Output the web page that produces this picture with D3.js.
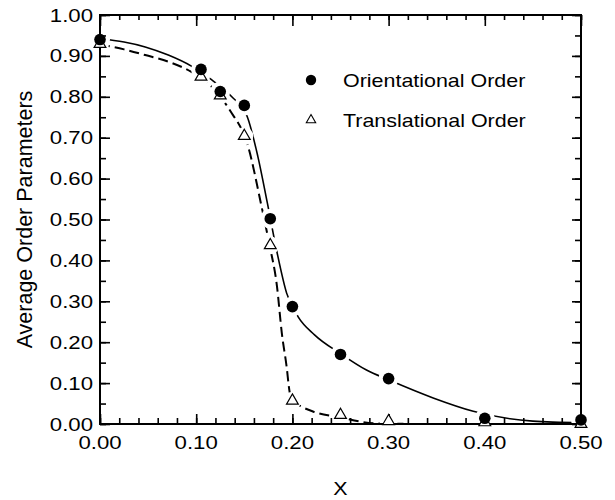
<!DOCTYPE html>
<html>
<head>
<meta charset="utf-8">
<script src="https://cdn.jsdelivr.net/npm/d3@7"></script>
<style>
  body { margin: 0; background: #fff; }
  svg text { font-family: "Liberation Sans", Arial, Helvetica, sans-serif; fill: #000; }
</style>
</head>
<body>
<div id="chart"></div>
<script>
'use strict';

const xValues = [0.00, 0.105, 0.125, 0.150, 0.177, 0.200, 0.250, 0.300, 0.400, 0.500];
const orientational = [0.940, 0.867, 0.813, 0.779, 0.502, 0.287, 0.170, 0.111, 0.014, 0.010];
const translational = [0.929, 0.849, 0.803, 0.704, 0.437, 0.057, 0.022, 0.007, 0.004, 0.000];

// fitted curves
const orientFitX = [0, 0.025, 0.047, 0.071, 0.095, 0.114, 0.137, 0.153, 0.164, 0.174, 0.184, 0.194, 0.206, 0.223, 0.25, 0.277, 0.3, 0.347, 0.388, 0.45, 0.5];
const orientFitY = [0.942, 0.934, 0.922, 0.902, 0.875, 0.845, 0.800, 0.752, 0.655, 0.540, 0.420, 0.320, 0.262, 0.218, 0.172, 0.132, 0.108, 0.063, 0.031, 0.007, 0.003];
const transFitX = [0, 0.025, 0.047, 0.0745, 0.095, 0.115, 0.135, 0.154, 0.168, 0.176, 0.184, 0.189, 0.194, 0.197, 0.2, 0.21, 0.222, 0.25, 0.27, 0.29, 0.35, 0.5];
const transFitY = [0.928, 0.916, 0.902, 0.883, 0.861, 0.827, 0.767, 0.678, 0.531, 0.440, 0.336, 0.222, 0.140, 0.080, 0.058, 0.042, 0.030, 0.016, 0.006, 0.001, 0, 0];

const seriesNames = ['Orientational Order', 'Translational Order'];
const xTicks = [0.0, 0.1, 0.2, 0.3, 0.4, 0.5];
const xMinorTicks = d3.range(0, 0.5001, 0.02);
const yTicks = d3.range(0, 1.0001, 0.1);
const yMinorTicks = d3.range(0, 1.0001, 0.05);

const width = 615, height = 500;
const margin = {top: 15, right: 34, bottom: 76, left: 100};

const svg = d3.select('#chart').append('svg')
    .attr('width', width)
    .attr('height', height);

const x = d3.scaleLinear().domain([0, 0.5]).range([margin.left, width - margin.right]);
const y = d3.scaleLinear().domain([0, 1]).range([height - margin.bottom, margin.top]);

const fmt = d3.format('.2f');

function zipPts(xs, ys) {
    return xs.map(function (v, i) { return {x: v, y: ys[i]}; });
}

let orientPts = zipPts(xValues, orientational);
let transPts = zipPts(xValues, translational);

let line = d3.line()
    .x(function (d) { return x(d.x); })
    .y(function (d) { return y(d.y); })
    .curve(d3.curveMonotoneX);

// fitted curves
svg.append('path')
    .datum(zipPts(transFitX, transFitY))
    .attr('d', line)
    .style('fill', 'none')
    .style('stroke', '#000')
    .style('stroke-width', 2)
    .style('stroke-dasharray', '10, 5');

svg.append('path')
    .datum(zipPts(orientFitX, orientFitY))
    .attr('d', line)
    .style('fill', 'none')
    .style('stroke', '#000')
    .style('stroke-width', 1.6);

// white gaps round the markers
svg.selectAll('.halo-o').data(orientPts).enter().append('circle')
    .attr('cx', function (d) { return x(d.x); })
    .attr('cy', function (d) { return y(d.y); })
    .attr('r', 10)
    .style('fill', '#fff');

svg.selectAll('.halo-t').data(transPts).enter().append('circle')
    .attr('cx', function (d) { return x(d.x); })
    .attr('cy', function (d) { return y(d.y); })
    .attr('r', 9)
    .style('fill', '#fff');

// axes: ticks point inwards on all four sides
let frame = svg.append('g');

function addAxis(axis, tickValues, size, transform) {
    let g = frame.append('g')
        .attr('transform', transform)
        .call(axis.tickValues(tickValues).tickSize(size).tickFormat(''));
    g.select('.domain').remove();
    g.selectAll('.tick line').style('stroke', '#000').style('stroke-width', 1.6);
    return g;
}

let bottomY = y(0), topY = y(1), leftX = x(0), rightX = x(0.5);

addAxis(d3.axisBottom(x), xMinorTicks, -6, 'translate(0,' + bottomY + ')');
addAxis(d3.axisBottom(x), xTicks, -10, 'translate(0,' + bottomY + ')');
addAxis(d3.axisTop(x), xMinorTicks, -5, 'translate(0,' + topY + ')');
addAxis(d3.axisTop(x), xTicks, -11, 'translate(0,' + topY + ')');
addAxis(d3.axisLeft(y), yMinorTicks, -6, 'translate(' + leftX + ',0)');
addAxis(d3.axisLeft(y), yTicks, -10, 'translate(' + leftX + ',0)');
addAxis(d3.axisRight(y), yMinorTicks, -6, 'translate(' + rightX + ',0)');
addAxis(d3.axisRight(y), yTicks, -9, 'translate(' + rightX + ',0)');

frame.append('rect')
    .attr('x', leftX)
    .attr('y', topY)
    .attr('width', rightX - leftX)
    .attr('height', bottomY - topY)
    .style('fill', 'none')
    .style('stroke', '#000')
    .style('stroke-width', 2);

// tick labels (the scan is stretched sideways, so the text is too)
frame.selectAll('.xlab').data(xTicks).enter().append('text')
    .attr('transform', function (d) { return 'translate(' + x(d) + ',' + (bottomY + 25) + ') scale(1.2,1)'; })
    .style('text-anchor', 'middle')
    .style('font-size', '18.5px')
    .text(fmt);

frame.selectAll('.ylab').data(yTicks).enter().append('text')
    .attr('transform', function (d) { return 'translate(' + (leftX - 7) + ',' + (y(d) + 6.5) + ') scale(1.2,1)'; })
    .style('text-anchor', 'end')
    .style('font-size', '18.5px')
    .text(fmt);

// axis titles
svg.append('text')
    .attr('transform', 'translate(' + ((leftX + rightX) / 2) + ',495) scale(1.16,1)')
    .style('text-anchor', 'middle')
    .style('font-size', '18.5px')
    .text('X');

svg.append('text')
    .attr('transform', 'translate(32,' + ((topY + bottomY) / 2) + ') rotate(-90)')
    .style('text-anchor', 'middle')
    .style('font-size', '21.5px')
    .text('Average Order Parameters');

// markers
let triangle = d3.symbol().type(d3.symbolTriangle).size(60);

svg.selectAll('.tri').data(transPts).enter().append('path')
    .attr('d', triangle)
    .attr('transform', function (d) { return 'translate(' + x(d.x) + ',' + y(d.y) + ')'; })
    .style('fill', '#fff')
    .style('stroke', '#000')
    .style('stroke-width', 1.2);

svg.selectAll('.dot').data(orientPts).enter().append('circle')
    .attr('cx', function (d) { return x(d.x); })
    .attr('cy', function (d) { return y(d.y); })
    .attr('r', 5.8)
    .style('fill', '#000');

// legend
let legend = svg.append('g').attr('transform', 'translate(311,80)');

legend.append('circle')
    .attr('r', 5.2)
    .style('fill', '#000');

legend.append('path')
    .attr('d', d3.symbol().type(d3.symbolTriangle).size(38))
    .attr('transform', 'translate(0,40)')
    .style('fill', '#fff')
    .style('stroke', '#000')
    .style('stroke-width', 1.1);

legend.selectAll('.legend-text').data(seriesNames).enter().append('text')
    .attr('transform', function (d, i) { return 'translate(32,' + (i * 40 + 7) + ') scale(1.16,1)'; })
    .style('font-size', '18.5px')
    .text(function (d) { return d; });
</script>
</body>
</html>
